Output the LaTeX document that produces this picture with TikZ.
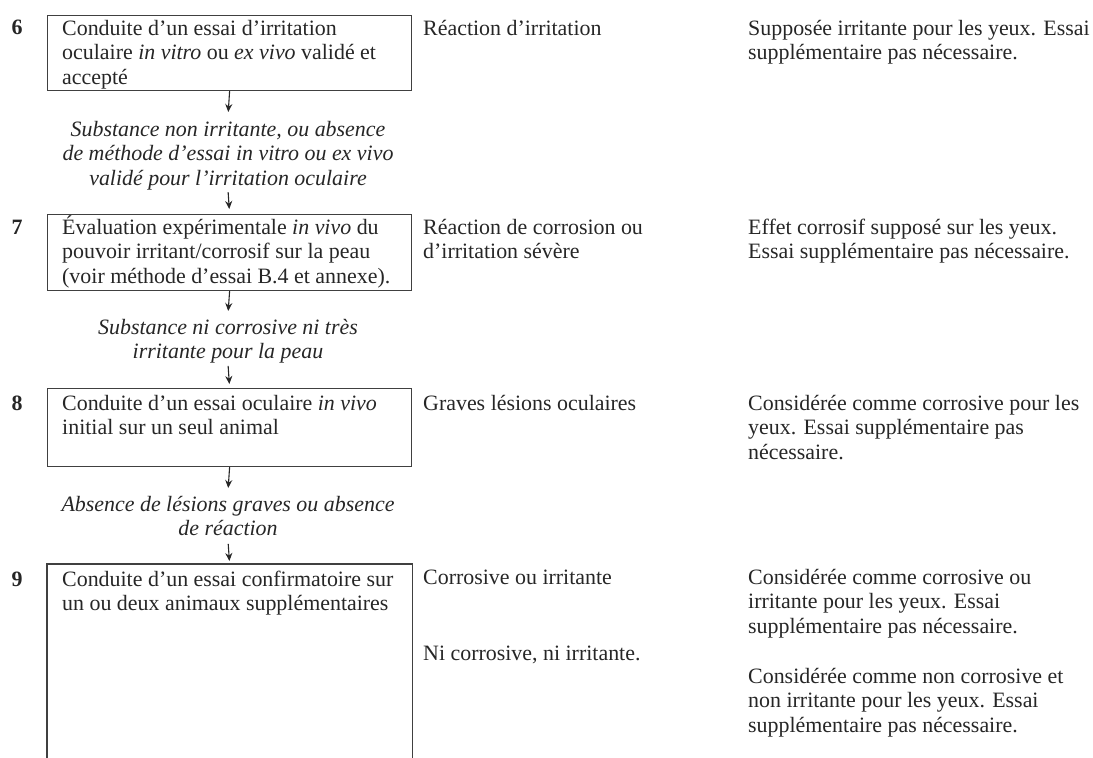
\documentclass[tikz,border=0pt]{standalone}
\usepackage{fontspec}
\setmainfont{Liberation Serif}
\usetikzlibrary{arrows.meta}
\newcommand{\fst}{\rule{0pt}{20bp}}
\newcommand{\lst}{\rule[-5bp]{0pt}{5bp}}
\newcommand{\fsz}{\fontsize{22}{24.5}\selectfont}
\tikzset{
  flowbox/.style={draw=black!75, line width=1.2bp, minimum width=364bp, anchor=north west, inner sep=0pt},
  txt/.style={anchor=north west, inner sep=0pt, align=left, text=black!85, font=\fsz},
  lab/.style={anchor=north, inner sep=0pt, align=center, text=black!85, font=\fsz\itshape},
  num/.style={anchor=base, inner sep=0pt, font=\fsz\bfseries, text=black!85},
  arr/.style={-{Stealth[length=8bp,width=7bp]}, line width=1.1bp, draw=black!85},
}
\begin{document}
\begin{tikzpicture}[x=1bp, y=-1bp]
\useasboundingbox (0,0) rectangle (1093,758);

% boxes
\node[flowbox, minimum height=75bp] (box6) at (47,15) {};
\node[flowbox, minimum height=76bp] (box7) at (47,214) {};
\node[flowbox, minimum height=78bp] (box8) at (47,388) {};
\node[flowbox, draw=none, minimum height=194bp] (box9) at (47,564) {};
\draw[black!75, line width=1.2bp] (box9.south west) -- (box9.north west) -- (box9.north east) -- (box9.south east);

% numbers
\node[num] (n6) at (17,35) {6};
\node[num] (n7) at (17,234) {7};
\node[num] (n8) at (17,410) {8};
\node[num] (n9) at (17,586) {9};

% box texts
\node[txt] (t6) at (62,15) {\fst Conduite d'un essai d'irritation\\oculaire \emph{in vitro} ou \emph{ex vivo} validé et\\accepté};
\node[txt] (t7) at (62,214) {\fst Évaluation expérimentale \emph{in vivo} du\\pouvoir irritant/corrosif sur la peau\\(voir méthode d'essai B.4 et annexe).};
\node[txt] (t8) at (62,390) {\fst Conduite d'un essai oculaire \emph{in vivo}\\initial sur un seul animal};
\node[txt] (t9) at (62,566) {\fst Conduite d'un essai confirmatoire sur\\un ou deux animaux supplémentaires};

% labels between boxes
\node[lab] (l6) at (228,116) {\fst Substance non irritante, ou absence\\de méthode d'essai in vitro ou ex vivo\\validé pour l'irritation oculaire\lst};
\node[lab] (l7) at (228,314) {\fst Substance ni corrosive ni très\\irritante pour la peau\lst};
\node[lab] (l8) at (228,491) {\fst Absence de lésions graves ou absence\\de réaction\lst};

% arrows
\draw[arr, shorten >=4bp] (box6.south) -- (l6.north);
\draw[arr, shorten <=2bp, shorten >=5bp] (l6.south) -- (box7.north);
\draw[arr, shorten >=3bp] (box7.south) -- (l7.north);
\draw[arr, shorten <=2bp, shorten >=4bp] (l7.south) -- (box8.north);
\draw[arr, shorten >=3bp] (box8.south) -- (l8.north);
\draw[arr, shorten <=3bp, shorten >=3bp] (l8.south) -- (box9.north);

% column 2: results
\node[txt] (r6) at (423,15) {\fst Réaction d'irritation};
\node[txt] (r7) at (423,214) {\fst Réaction de corrosion ou\\d'irritation sévère};
\node[txt] (r8) at (423,390) {\fst Graves lésions oculaires};
\node[txt] (r9a) at (423,564) {\fst Corrosive ou irritante};
\node[txt] (r9b) at (423,640) {\fst Ni corrosive, ni irritante.};

% column 3: conclusions
\node[txt] (c6) at (748,15) {\fst Supposée irritante pour les yeux. Essai\\supplémentaire pas nécessaire.};
\node[txt] (c7) at (748,214) {\fst Effet corrosif supposé sur les yeux.\\Essai supplémentaire pas nécessaire.};
\node[txt] (c8) at (748,390) {\fst Considérée comme corrosive pour les\\yeux. Essai supplémentaire pas\\nécessaire.};
\node[txt] (c9a) at (748,564) {\fst Considérée comme corrosive ou\\irritante pour les yeux. Essai\\supplémentaire pas nécessaire.};
\node[txt] (c9b) at (748,663) {\fst Considérée comme non corrosive et\\non irritante pour les yeux. Essai\\supplémentaire pas nécessaire.};
\end{tikzpicture}
\end{document}
